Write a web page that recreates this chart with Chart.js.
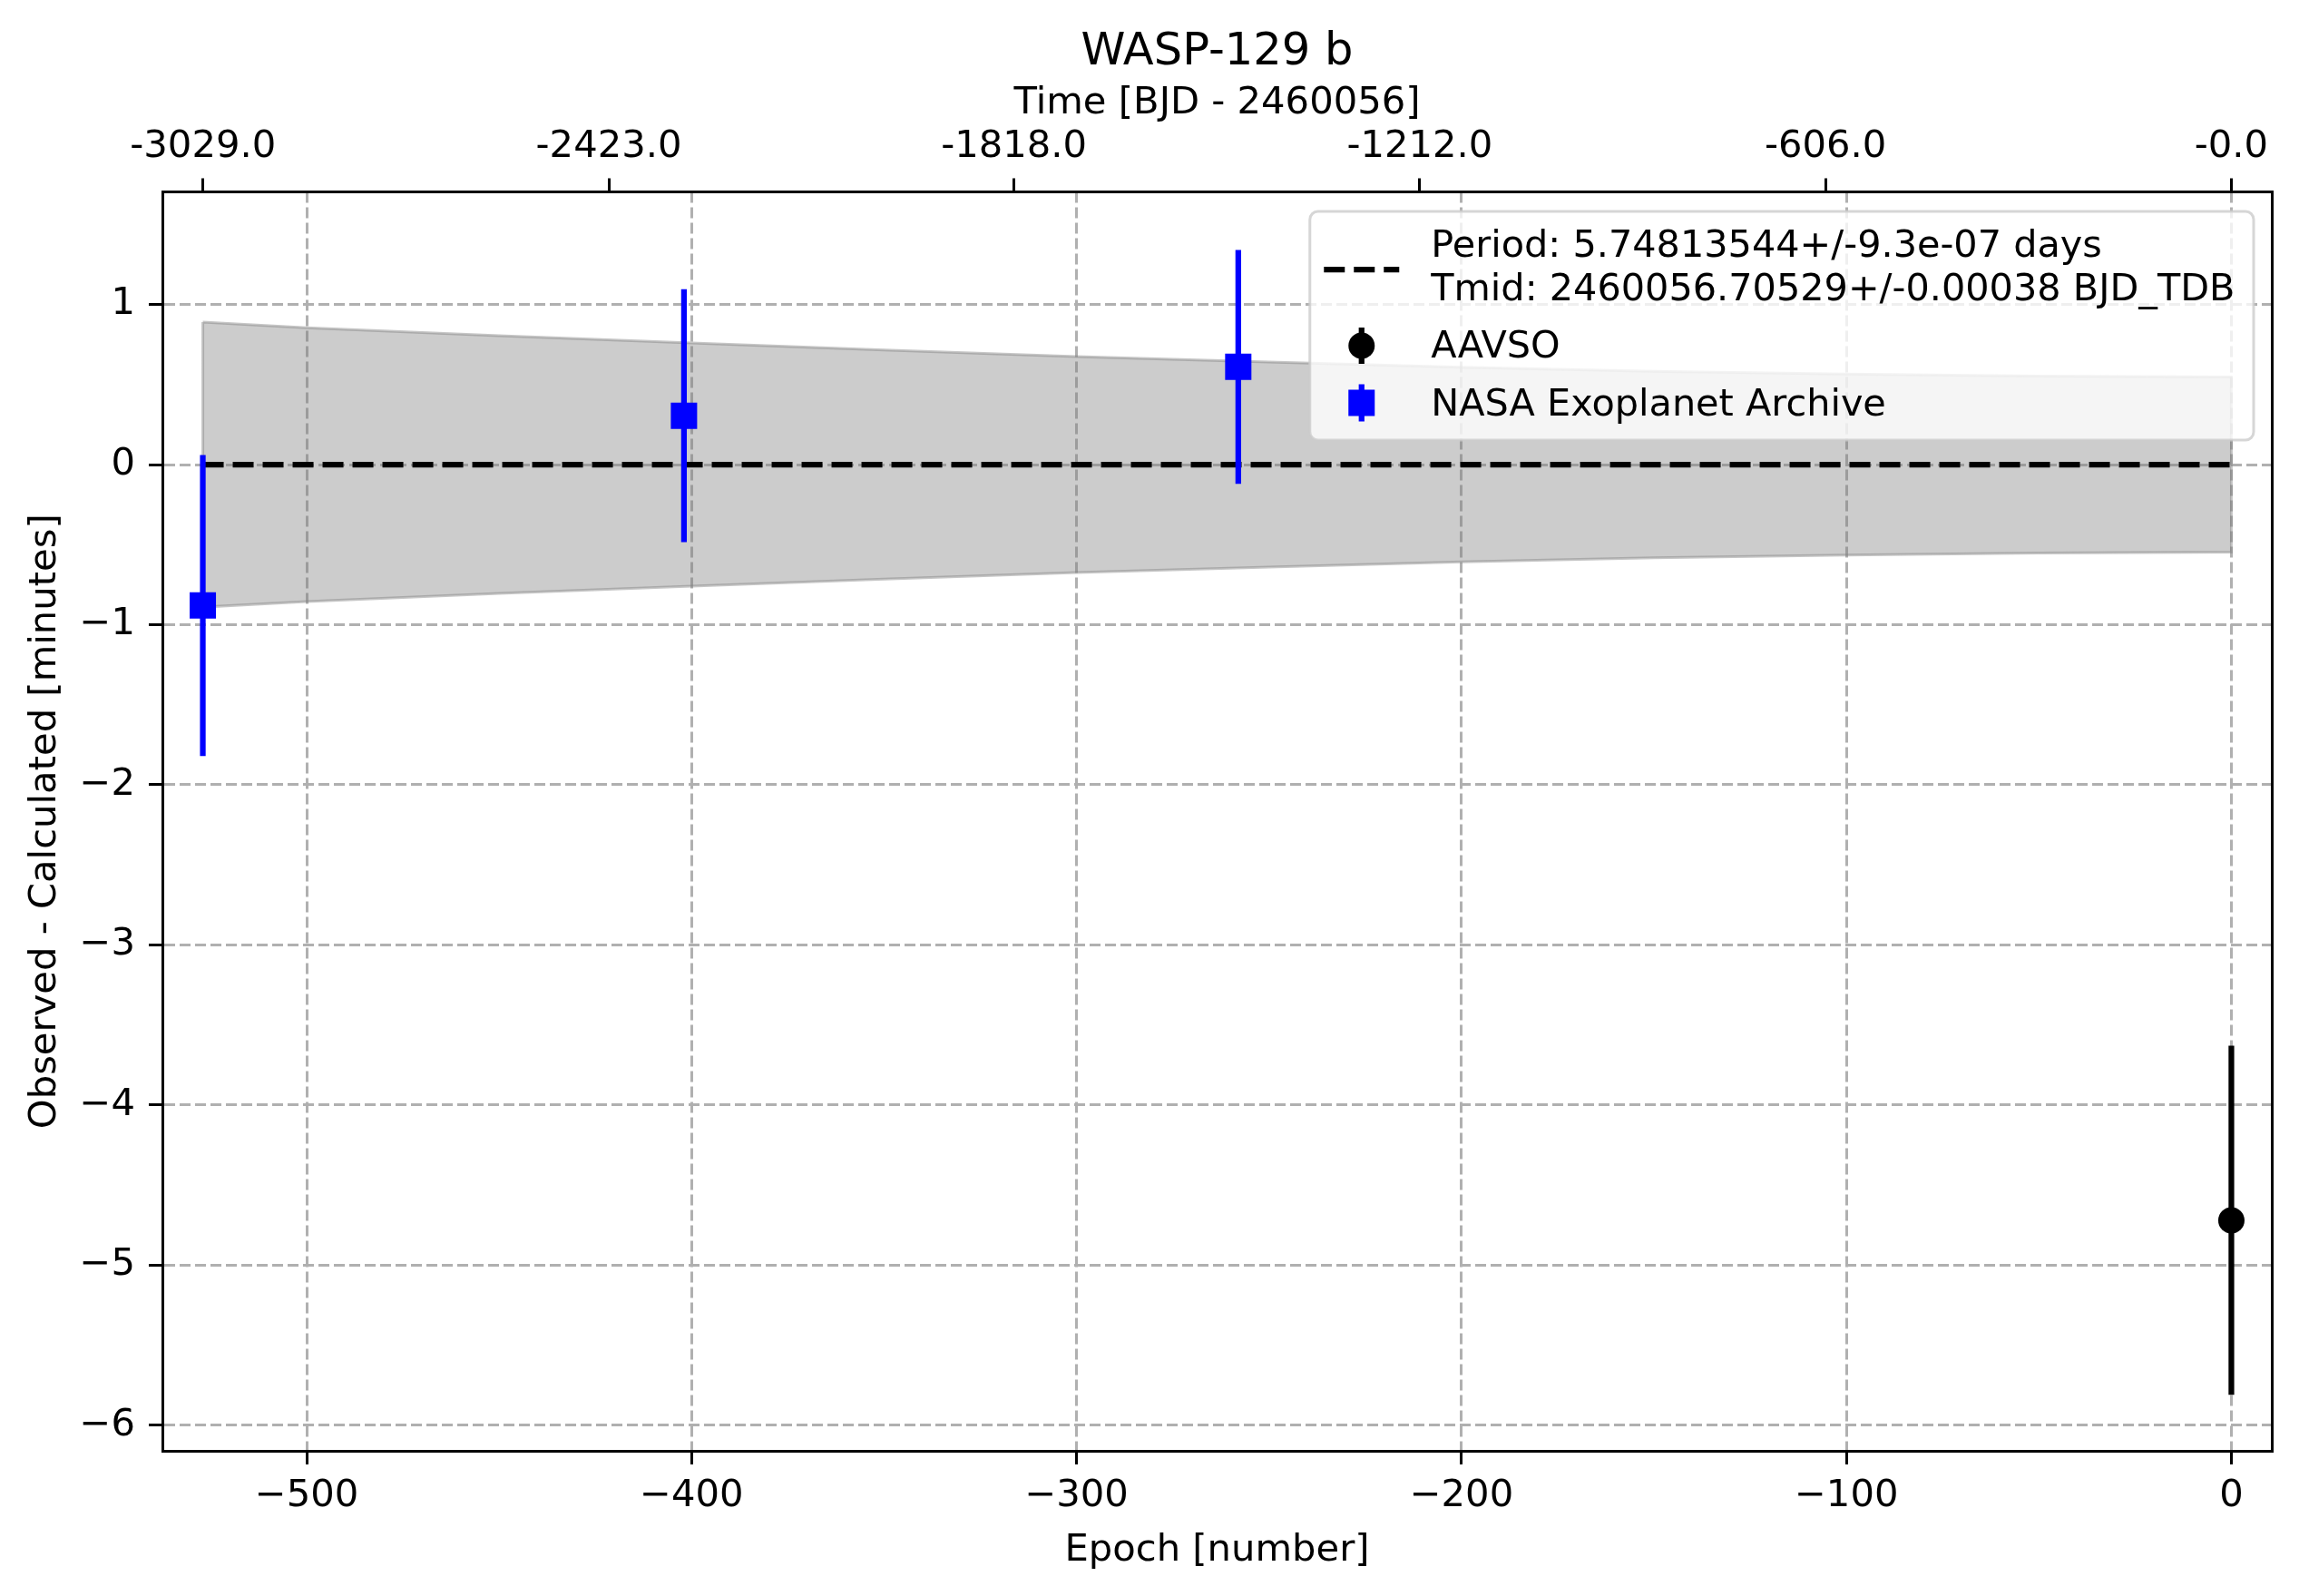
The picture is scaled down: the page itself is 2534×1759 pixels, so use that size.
<!DOCTYPE html>
<html>
<head>
<meta charset="utf-8">
<title>WASP-129 b</title>
<script src="https://cdn.jsdelivr.net/npm/chart.js@4.4.1/dist/chart.umd.min.js"></script>
<style>
  html, body { margin: 0; padding: 0; background: #fff; }
  #wrap { width: 2534px; height: 1759px; }
</style>
</head>
<body>
<div id="wrap"><canvas id="chart" width="2534" height="1759"></canvas></div>
<script>
'use strict';

// observed minus calculated, in minutes
var nasaEpochs = [-527, -402, -258];
var nasaOC = [-0.88, 0.305, 0.61];
var nasaErr = [0.94, 0.79, 0.73];

var aavsoEpochs = [0];
var aavsoOC = [-4.72];
var aavsoErr = [1.09];

// ephemeris uncertainty band
var bandEpochs = [-527, -500, -450, -400, -350, -300, -250, -200, -150, -100, -50, 0];
var bandUpper = [0.89, 0.855, 0.805, 0.76, 0.715, 0.675, 0.64, 0.608, 0.582, 0.565, 0.552, 0.547];
var bandLower = [-0.89, -0.855, -0.805, -0.76, -0.715, -0.675, -0.64, -0.608, -0.582, -0.565, -0.552, -0.547];

var modelEpochs = [-527, 0];
var modelOC = [0, 0];

var xTicks = [-500, -400, -300, -200, -100, 0];
var yTicks = [-6, -5, -4, -3, -2, -1, 0, 1];
var topTickDays = [-3029, -2423, -1818, -1212, -606, 0];
var topTickLabels = ['-3029.0', '-2423.0', '-1818.0', '-1212.0', '-606.0', '-0.0'];

var period = 5.74813544;
var modelLabel = ['Period: 5.74813544+/-9.3e-07 days', 'Tmid: 2460056.70529+/-0.00038 BJD_TDB'];
var aavsoLabel = 'AAVSO';
var nasaLabel = 'NASA Exoplanet Archive';

var xMin = -537.5;
var xMax = 10.5;
var yMin = -6.16;
var yMax = 1.703;

var FONT = 'DejaVu Sans';
var FS = 41.7;
var BLUE = '#0000ff';

function pts(xs, ys) {
  var out = [];
  for (var i = 0; i < xs.length; i++) {
    out.push({x: xs[i], y: ys[i]});
  }
  return out;
}

function minus(v) {
  return String(v).replace('-', '\u2212');
}

var datasets = [];

// markers on top
datasets.push({
  label: aavsoLabel,
  data: pts(aavsoEpochs, aavsoOC),
  pointStyle: 'circle',
  pointRadius: 14.5,
  pointBackgroundColor: '#000',
  pointBorderWidth: 0,
  showLine: false,
  order: 0
});
datasets.push({
  label: nasaLabel,
  data: pts(nasaEpochs, nasaOC),
  pointStyle: 'rect',
  pointRadius: 20.5,
  pointBackgroundColor: BLUE,
  pointBorderWidth: 0,
  showLine: false,
  order: 0
});

// error bars
for (var i = 0; i < nasaEpochs.length; i++) {
  datasets.push({
    data: [{x: nasaEpochs[i], y: nasaOC[i] - nasaErr[i]}, {x: nasaEpochs[i], y: nasaOC[i] + nasaErr[i]}],
    showLine: true,
    borderColor: BLUE,
    borderWidth: 6.25,
    pointRadius: 0,
    order: 1
  });
}
for (var j = 0; j < aavsoEpochs.length; j++) {
  datasets.push({
    data: [{x: aavsoEpochs[j], y: aavsoOC[j] - aavsoErr[j]}, {x: aavsoEpochs[j], y: aavsoOC[j] + aavsoErr[j]}],
    showLine: true,
    borderColor: '#000',
    borderWidth: 6.25,
    pointRadius: 0,
    order: 1
  });
}

// linear ephemeris
datasets.push({
  label: 'model',
  data: pts(modelEpochs, modelOC),
  showLine: true,
  borderColor: '#000',
  borderWidth: 6.25,
  borderDash: [23, 10],
  pointRadius: 0,
  order: 2
});

// band outline
var outline = pts(bandEpochs, bandUpper).concat(pts(bandEpochs, bandLower).reverse());
outline.push(outline[0]);
datasets.push({
  data: outline,
  showLine: true,
  borderColor: 'rgba(128,128,128,0.45)',
  borderWidth: 3,
  pointRadius: 0,
  order: 3
});

// band fill
datasets.push({
  data: pts(bandEpochs, bandUpper),
  showLine: true,
  borderWidth: 0,
  pointRadius: 0,
  backgroundColor: 'rgba(128,128,128,0.4)',
  fill: '+1',
  order: 4
});
datasets.push({
  data: pts(bandEpochs, bandLower),
  showLine: true,
  borderWidth: 0,
  pointRadius: 0,
  fill: false,
  order: 5
});

function roundedBox(ctx, x, y, w, h, r) {
  ctx.beginPath();
  ctx.moveTo(x + r, y);
  ctx.lineTo(x + w - r, y);
  ctx.arcTo(x + w, y, x + w, y + r, r);
  ctx.lineTo(x + w, y + h - r);
  ctx.arcTo(x + w, y + h, x + w - r, y + h, r);
  ctx.lineTo(x + r, y + h);
  ctx.arcTo(x, y + h, x, y + h - r, r);
  ctx.lineTo(x, y + r);
  ctx.arcTo(x, y, x + r, y, r);
  ctx.closePath();
}

var ocLegend = {
  id: 'ocLegend',
  afterDraw: function (chart) {
    var ctx = chart.ctx;
    var area = chart.chartArea;
    ctx.save();
    ctx.font = '41.4px "' + FONT + '"';
    var texts = [modelLabel[0], modelLabel[1], aavsoLabel, nasaLabel];
    var textW = 0;
    texts.forEach(function (t) {
      textW = Math.max(textW, ctx.measureText(t).width);
    });
    var w = 133.5 + textW + 20.5;
    var h = 252;
    var right = area.right - 20;
    var left = right - w;
    var top = area.top + 21.5;

    roundedBox(ctx, left, top, w, h, 9);
    ctx.fillStyle = 'rgba(255,255,255,0.8)';
    ctx.fill();
    ctx.lineWidth = 3;
    ctx.strokeStyle = 'rgba(204,204,204,0.8)';
    ctx.stroke();

    // dashed handle
    ctx.beginPath();
    ctx.setLineDash([23, 10]);
    ctx.lineWidth = 6.25;
    ctx.strokeStyle = '#000';
    ctx.moveTo(left + 15.5, top + 64);
    ctx.lineTo(left + 98.5, top + 64);
    ctx.stroke();
    ctx.setLineDash([]);

    var mx = left + 57;
    var ay = top + 148;
    var ny = top + 211;
    // AAVSO handle
    ctx.beginPath();
    ctx.moveTo(mx, ay - 20);
    ctx.lineTo(mx, ay + 20);
    ctx.stroke();
    ctx.beginPath();
    ctx.fillStyle = '#000';
    ctx.arc(mx, ay, 14.5, 0, Math.PI * 2);
    ctx.fill();
    // NASA handle
    ctx.beginPath();
    ctx.strokeStyle = BLUE;
    ctx.moveTo(mx, ny - 20.5);
    ctx.lineTo(mx, ny + 20.5);
    ctx.stroke();
    ctx.fillStyle = BLUE;
    ctx.fillRect(mx - 14.5, ny - 14.5, 29, 29);

    ctx.fillStyle = '#000';
    ctx.textBaseline = 'middle';
    ctx.textAlign = 'left';
    var tx = left + 133.5;
    ctx.fillText(modelLabel[0], tx, top + 39);
    ctx.fillText(modelLabel[1], tx, top + 87);
    ctx.fillText(aavsoLabel, tx, top + 150.5);
    ctx.fillText(nasaLabel, tx, top + 214);
    ctx.restore();
  }
};

Chart.defaults.color = '#000';
Chart.defaults.font.family = FONT;
Chart.defaults.font.size = FS;

var ctx = document.getElementById('chart').getContext('2d');

var chart = new Chart(ctx, {
  type: 'scatter',
  data: {datasets: datasets},
  options: {
    responsive: false,
    devicePixelRatio: 1,
    animation: false,
    events: [],
    layout: {padding: 0},
    plugins: {
      legend: {display: false},
      tooltip: {enabled: false},
      title: {
        display: true,
        text: 'WASP-129 b',
        color: '#000',
        fullSize: false,
        font: {family: FONT, size: 49.5, weight: 'normal'},
        padding: {top: 28, bottom: 0}
      }
    },
    scales: {
      x: {
        type: 'linear',
        position: 'bottom',
        min: xMin,
        max: xMax,
        afterBuildTicks: function (scale) {
          scale.ticks = xTicks.map(function (v) { return {value: v}; });
        },
        afterFit: function (scale) { scale.height = 160; },
        ticks: {
          autoSkip: false,
          maxRotation: 0,
          padding: 10,
          color: '#000',
          callback: function (v) { return minus(v); }
        },
        grid: {
          color: '#b0b0b0',
          lineWidth: 3,
          tickLength: 15,
          tickColor: '#000',
          tickWidth: 3,
          tickBorderDash: []
        },
        border: {display: true, color: '#000', width: 3, dash: [12, 5]},
        title: {
          display: true,
          text: 'Epoch [number]',
          color: '#000',
          padding: {top: 0, bottom: 25}
        }
      },
      x2: {
        type: 'linear',
        position: 'top',
        min: xMin * period,
        max: xMax * period,
        afterBuildTicks: function (scale) {
          scale.ticks = topTickDays.map(function (v) { return {value: v}; });
        },
        afterFit: function (scale) { scale.height = 124.1; },
        ticks: {
          autoSkip: false,
          maxRotation: 0,
          padding: 9,
          color: '#000',
          callback: function (v, idx) { return topTickLabels[idx]; }
        },
        grid: {
          drawOnChartArea: false,
          color: '#000',
          tickLength: 15,
          tickColor: '#000',
          tickWidth: 3
        },
        border: {display: true, color: '#000', width: 3},
        title: {
          display: true,
          text: 'Time [BJD - 2460056]',
          color: '#000',
          padding: {top: 2, bottom: 0}
        }
      },
      y: {
        type: 'linear',
        position: 'left',
        min: yMin,
        max: yMax,
        afterBuildTicks: function (scale) {
          scale.ticks = yTicks.map(function (v) { return {value: v}; });
        },
        afterFit: function (scale) { scale.width = 179; },
        ticks: {
          autoSkip: false,
          padding: 15,
          color: '#000',
          callback: function (v) { return minus(v); }
        },
        grid: {
          color: '#b0b0b0',
          lineWidth: 3,
          tickLength: 15,
          tickColor: '#000',
          tickWidth: 3,
          tickBorderDash: []
        },
        border: {display: true, color: '#000', width: 3, dash: [12, 5]},
        title: {
          display: true,
          text: 'Observed - Calculated [minutes]',
          color: '#000',
          padding: {top: 25, bottom: 0}
        }
      },
      y2: {
        type: 'linear',
        position: 'right',
        min: yMin,
        max: yMax,
        afterFit: function (scale) { scale.width = 30; },
        ticks: {display: false},
        grid: {display: false},
        border: {display: true, color: '#000', width: 3}
      }
    }
  },
  plugins: [ocLegend]
});
</script>
</body>
</html>
